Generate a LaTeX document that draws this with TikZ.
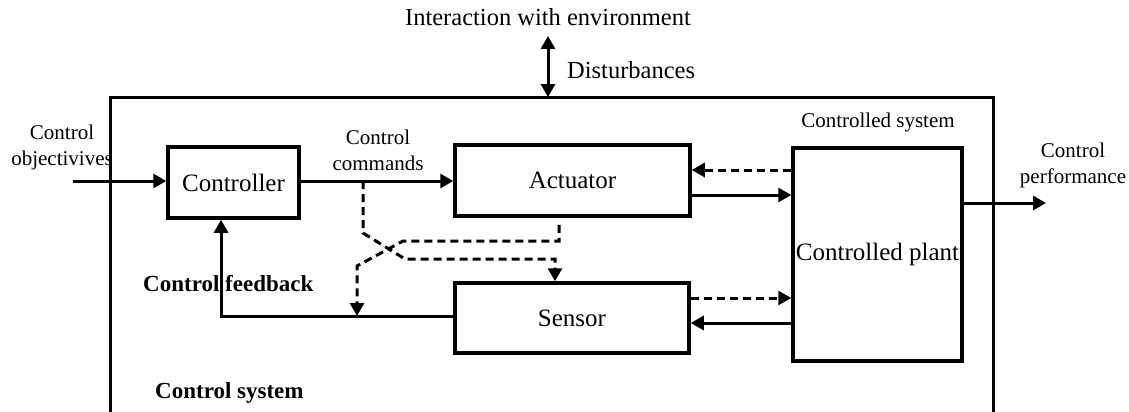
\documentclass[tikz,border=0pt]{standalone}
\usepackage{fontspec}
\setmainfont{Liberation Serif}
\usetikzlibrary{arrows.meta,calc}
\begin{document}
\begin{tikzpicture}[x=1pt,y=-1pt,
  blockbox/.style={draw,line width=3.5pt,inner sep=0pt,font=\fontsize{25}{27}\selectfont},
  conn/.style={line width=3pt,-{Triangle[length=13pt,width=14pt]}},
  dconn/.style={conn,dash pattern=on 8pt off 5pt},
  lab/.style={inner sep=0pt,align=center,font=\fontsize{21}{26}\selectfont},
  biglab/.style={inner sep=0pt,font=\fontsize{24.5}{26}\selectfont},
  boldlab/.style={inner sep=0pt,anchor=west,font=\fontsize{23}{26}\selectfont\bfseries}]
\useasboundingbox (0,0) rectangle (1129,412);
% outer box
\draw[line width=3pt] (110,412) -- (110,97) -- (993,97) -- (993,412);
% blocks
\node[blockbox,minimum width=131pt,minimum height=71pt] (ctrl) at (233.5,182.5) {Controller};
\node[blockbox,minimum width=235pt,minimum height=71pt] (act) at (572.5,180.5) {Actuator};
\node[blockbox,minimum width=234pt,minimum height=70pt] (sen) at (572,318) {Sensor};
\node[blockbox,minimum width=169pt,minimum height=213pt] (plant) at (877.5,254.5) {Controlled plant};
% labels
\node[biglab] (env) at (548,17) {Interaction with environment};
\node[biglab,anchor=west] (dist) at (567,70) {Disturbances};
\node[lab] (obj) at (62,147) {Control\\objectivives};
\node[lab] (cmd) at (378,150) {Control\\commands};
\node[lab] (csys) at (878,122) {Controlled system};
\node[lab] (perf) at (1073,165) {Control\\performance};
\node[boldlab] (fbl) at (143,284) {Control feedback};
\node[boldlab] (sysl) at (155,393) {Control system};
% coordinates
\coordinate (in) at (73,181);
\coordinate (envtop) at (548,36);
\coordinate (envbot) at (548,97);
\coordinate (a1) at ([yshift=10.5pt]act.east);
\coordinate (a2) at ([yshift=-14.5pt]act.east);
\coordinate (s1) at ([yshift=20pt]sen.east);
\coordinate (s2) at ([yshift=-5pt]sen.east);
\coordinate (p1) at ([yshift=51.5pt]plant.east);
\coordinate (out) at (1046,203);
\coordinate (f0) at ([yshift=2pt]sen.west);
\coordinate (c1) at ([xshift=-12.5pt]ctrl.south);
\coordinate (d0) at (363,181);
\coordinate (d1) at ([xshift=-13.5pt,yshift=-7pt]act.south);
\coordinate (fb) at (357,316);
% connectors
\draw[line width=3pt,{Triangle[length=13pt,width=14pt]}-{Triangle[length=13pt,width=14pt]}] (envtop) -- (envbot);
\draw[conn] (in) -- (ctrl.west |- in);
\draw[conn] (ctrl.east |- in) -- (act.west |- in);
\draw[dconn] (plant.west |- a1) -- (a1);
\draw[conn] (a2) -- (plant.west |- a2);
\draw[dconn] (s1) -- (plant.west |- s1);
\draw[conn] (plant.west |- s2) -- (s2);
\draw[conn] (p1) -- (out);
\draw[conn] (f0) -| (c1);
\draw[dconn] (d0) -- ++(0,52) -- ++(42,26) -| ([xshift=-17pt]sen.north);
\draw[dconn] (d1) |- (403,241) -- (357,266) -- (fb);
\end{tikzpicture}
\end{document}
